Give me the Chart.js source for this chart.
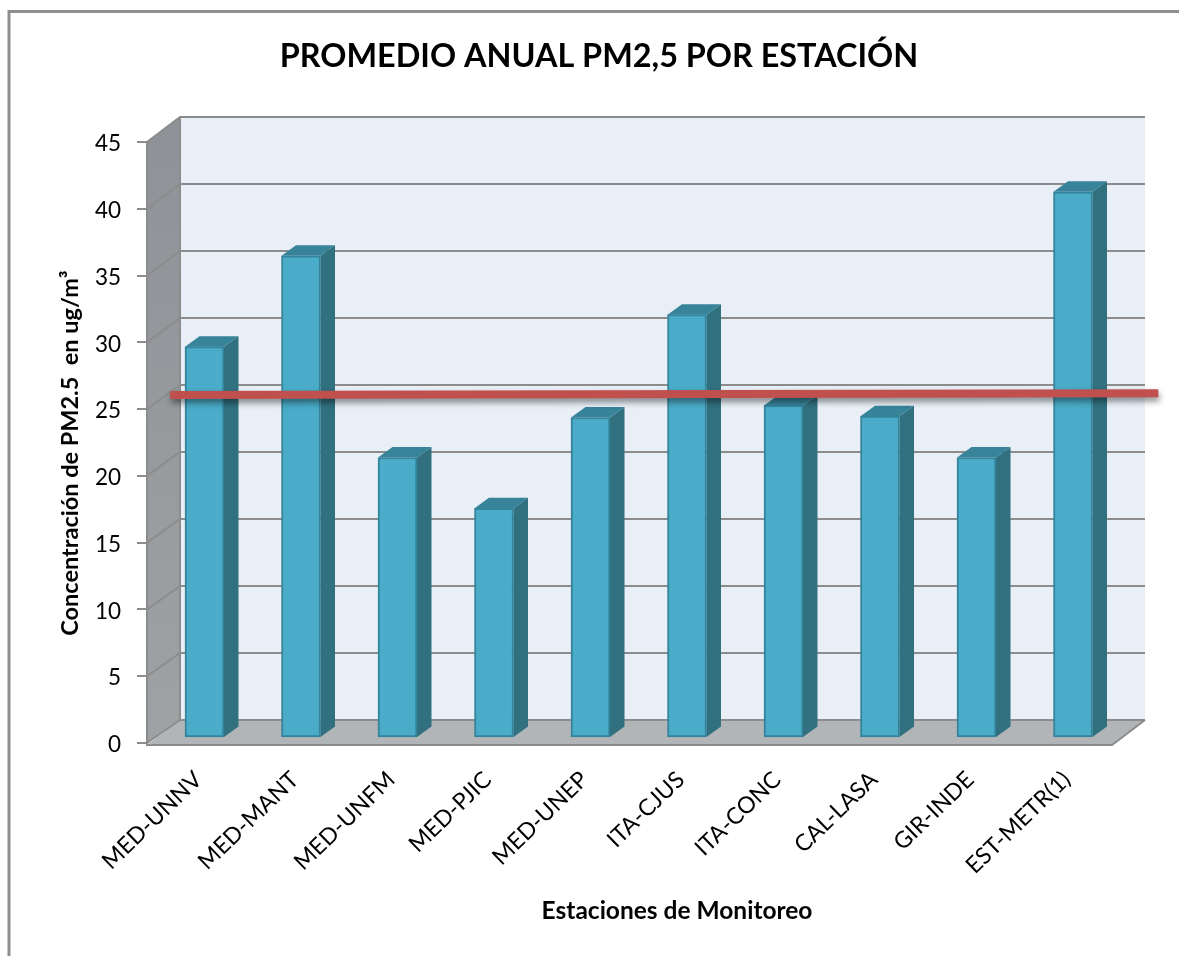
<!DOCTYPE html>
<html><head><meta charset="utf-8">
<style>html,body{margin:0;padding:0;background:#fff;overflow:hidden}canvas{display:block}</style>
<script src="https://cdn.jsdelivr.net/npm/chart.js@4/dist/chart.umd.min.js"></script>
</head><body><canvas id="c" width="1179" height="956"></canvas>
<script>
const chartTitle = 'PROMEDIO ANUAL PM2,5 POR ESTACIÓN';
const yTitle = 'Concentración de PM2.5  en ug/m³';
const xTitle = 'Estaciones de Monitoreo';
const stations = ['MED-UNNV','MED-MANT','MED-UNFM','MED-PJIC','MED-UNEP','ITA-CJUS','ITA-CONC','CAL-LASA','GIR-INDE','EST-METR(1)'];
const pm25 = [29.3,36.1,21.0,17.2,24.0,31.7,24.9,24.1,21.0,40.9];
const limitX = [-0.26,9.98];
const limitY = [26.05,26.18];

const FONT='Lato, "Open Sans", sans-serif';
const GRID='#8c8c8c';
const depth={x:33,yBottom:23,yTop:25};
const barShift={x:9.25,y:-5};
const barDepth={x:14.5,y:10.5};

const scene={
  id:'scene',
  beforeDraw(ch){
    const c=ch.ctx;
    c.save();
    c.strokeStyle='#8f8f8f';c.lineWidth=3;
    c.beginPath();c.moveTo(9,960);c.lineTo(9,11.5);c.lineTo(1180,11.5);c.stroke();
    c.restore();
  },
  beforeDatasetsDraw(ch){
    const c=ch.ctx,{left,right}=ch.chartArea,y=ch.scales.y;
    const y0=y.getPixelForValue(0),yT=y.getPixelForValue(45);
    const back=v=>y.getPixelForValue(v)-(depth.yBottom+(depth.yTop-depth.yBottom)*v/45);
    const bx=left+depth.x,brx=right+depth.x;
    c.save();
    c.fillStyle='#e8eff6';
    c.fillRect(bx,back(45),right-left,back(0)-back(45));
    const g=c.createLinearGradient(0,yT,0,y0);
    g.addColorStop(0,'#8f9296');g.addColorStop(1,'#9fa2a5');
    c.fillStyle=g;
    c.beginPath();c.moveTo(left,yT);c.lineTo(bx,back(45));c.lineTo(bx,back(0));c.lineTo(left,y0+1);c.closePath();c.fill();
    c.fillStyle='#b1b5b8';
    c.beginPath();c.moveTo(left,y0+2);c.lineTo(bx,back(0));c.lineTo(brx,back(0));c.lineTo(right,y0+2);c.closePath();c.fill();
    c.strokeStyle=GRID;c.lineWidth=2;
    y.ticks.forEach(t=>{
      c.beginPath();c.moveTo(left,y.getPixelForValue(t.value));c.lineTo(bx,back(t.value));c.lineTo(brx,back(t.value));c.stroke();
    });
    c.beginPath();c.moveTo(bx,back(45));c.lineTo(bx,back(0));c.stroke();
    c.beginPath();c.moveTo(left,yT);c.lineTo(left,y0+2);c.lineTo(right,y0+2);c.lineTo(brx,back(0));c.stroke();
    c.restore();
  },
  beforeDatasetDraw(ch,a){
    const c=ch.ctx;
    c.save();
    if(a.index===0){
      ch.getDatasetMeta(0).data.forEach(b=>{
        const l=b.x-b.width/2+barShift.x,r=b.x+b.width/2+barShift.x,t=b.y+barShift.y,bt=b.base+barShift.y;
        c.fillStyle='#31707f';
        c.beginPath();c.moveTo(r,t);c.lineTo(r+barDepth.x,t-barDepth.y);c.lineTo(r+barDepth.x,bt-barDepth.y);c.lineTo(r,bt);c.closePath();c.fill();
        c.fillStyle='#378399';
        c.beginPath();c.moveTo(l,t);c.lineTo(l+barDepth.x,t-barDepth.y);c.lineTo(r+barDepth.x,t-barDepth.y);c.lineTo(r,t);c.closePath();c.fill();
      });
      c.translate(barShift.x,barShift.y);
    } else {
      c.shadowColor='rgba(0,0,0,0.45)';c.shadowBlur=6;c.shadowOffsetX=1;c.shadowOffsetY=4;
    }
  },
  afterDatasetDraw(ch){ch.ctx.restore();},
  afterDraw(ch){
    const c=ch.ctx;
    c.save();
    c.fillStyle='#000';c.textAlign='center';c.textBaseline='middle';
    c.font='bold 32.4px '+FONT;
    c.fillText(chartTitle,599,57);
    c.font='bold 24.5px '+FONT;
    c.fillText(xTitle,677,911);
    c.font='bold 23.5px '+FONT;
    c.translate(70,453);c.rotate(-Math.PI/2);
    c.fillText(yTitle,0,0);
    c.restore();
  }
};

new Chart(document.getElementById('c'),{
  data:{labels:stations,datasets:[
    {type:'bar',data:pm25,order:1,grouped:false,backgroundColor:'#4aacc8',borderColor:'#34849c',borderWidth:2,borderSkipped:false,barThickness:39,xAxisID:'x',yAxisID:'y'},
    {type:'line',data:limitX.map((x,i)=>({x,y:limitY[i]})),order:0,borderColor:'#c0504d',borderWidth:8,pointRadius:0,clip:false,borderCapStyle:'butt',xAxisID:'xl',yAxisID:'y'}
  ]},
  options:{
    responsive:false,animation:false,
    layout:{padding:{left:10,top:142,right:67,bottom:0}},
    plugins:{legend:{display:false},title:{display:false},tooltip:{enabled:false}},
    scales:{
      x:{type:'category',grid:{display:false},border:{display:false},
        afterFit(s){s.height=213;},
        ticks:{autoSkip:false,minRotation:44,maxRotation:44,padding:15,labelOffset:3,color:'#000',font:{family:FONT,size:23}}},
      xl:{type:'linear',display:false,min:-0.5,max:9.5},
      y:{min:0,max:45,border:{display:false},
        afterFit(s){s.width=137;},
        grid:{drawOnChartArea:false,drawTicks:true,tickLength:10,color:GRID,lineWidth:2},
        ticks:{stepSize:5,padding:16,labelOffset:2,color:'#000',font:{family:FONT,size:22.5}}}
    }
  },
  plugins:[scene]
});
</script></body></html>
